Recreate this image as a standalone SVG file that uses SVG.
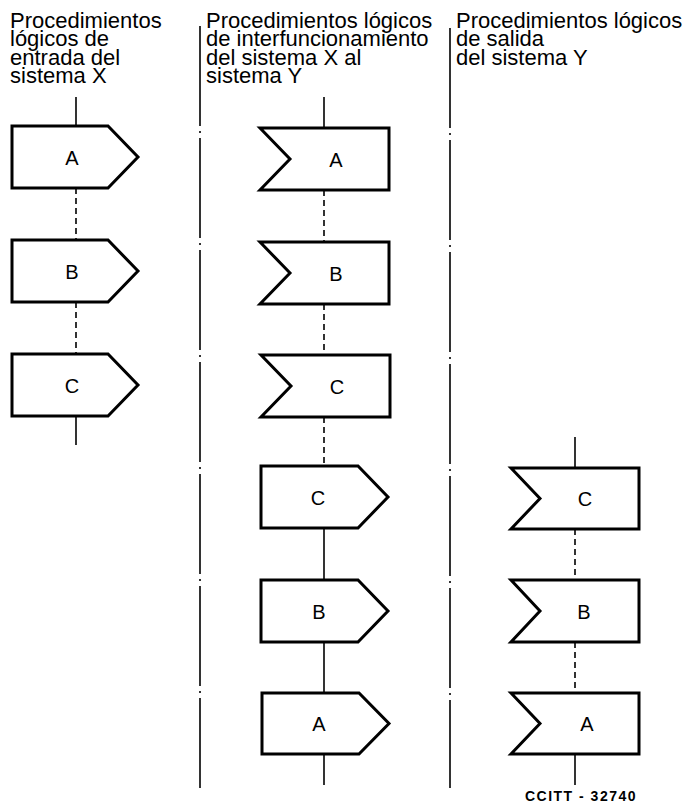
<svg xmlns="http://www.w3.org/2000/svg" width="691" height="807" viewBox="0 0 691 807">
<style>
.hdr{font-family:"Liberation Sans",Arial,sans-serif;font-size:22px;fill:#000}
.lbl{font-family:"Liberation Sans",Arial,sans-serif;font-size:20px;fill:#000;text-anchor:middle}
.box{fill:#fff;stroke:#000;stroke-width:3;stroke-linejoin:miter}
.solid{stroke:#000;stroke-width:1.6;fill:none}
.dash{stroke:#000;stroke-width:1.6;fill:none;stroke-dasharray:6,4}
.div{stroke:#000;stroke-width:1.6;fill:none;stroke-dasharray:100,5,2,5}
.ref{font-family:"Liberation Sans",Arial,sans-serif;font-size:14px;font-weight:bold;fill:#000;text-anchor:middle;letter-spacing:1.5px}
</style>
<rect width="691" height="807" fill="#fff"/>
<g id="headers">
<text class="hdr" x="10" y="28">Procedimientos</text>
<text class="hdr" x="10" y="46.3">lógicos de</text>
<text class="hdr" x="10" y="64.6">entrada del</text>
<text class="hdr" x="10" y="83">sistema X</text>
<text class="hdr" x="206" y="28">Procedimientos lógicos</text>
<text class="hdr" x="206" y="46.3">de interfuncionamiento</text>
<text class="hdr" x="206" y="64.6">del sistema X al</text>
<text class="hdr" x="206" y="83">sistema Y</text>
<text class="hdr" x="456" y="28">Procedimientos lógicos</text>
<text class="hdr" x="456" y="46.3">de salida</text>
<text class="hdr" x="456" y="64.6">del sistema Y</text>
</g>
<g id="dividers">
<line class="div" x1="200" y1="26" x2="200" y2="788"/>
<line class="div" x1="450" y1="28" x2="450" y2="788"/>
</g>
<g id="connectors">
<line class="solid" x1="76" y1="97" x2="76" y2="126"/>
<line class="dash" x1="76" y1="188" x2="76" y2="240"/>
<line class="dash" x1="76" y1="302" x2="76" y2="354"/>
<line class="solid" x1="76" y1="416" x2="76" y2="445"/>
<line class="solid" x1="324" y1="97" x2="324" y2="128"/>
<line class="dash" x1="324" y1="190" x2="324" y2="242"/>
<line class="dash" x1="324" y1="304" x2="324" y2="355"/>
<line class="dash" x1="324" y1="417" x2="324" y2="466"/>
<line class="solid" x1="324" y1="528" x2="324" y2="580"/>
<line class="solid" x1="324" y1="642" x2="324" y2="693"/>
<line class="solid" x1="324" y1="754" x2="324" y2="785"/>
<line class="solid" x1="575" y1="437" x2="575" y2="468"/>
<line class="dash" x1="575" y1="529" x2="575" y2="580"/>
<line class="dash" x1="575" y1="642" x2="575" y2="693"/>
<line class="solid" x1="575" y1="754" x2="575" y2="785"/>
</g>
<g id="x-A"><path class="box" d="M12,126 H108 L138,157 L108,188 H12 Z"/><text class="lbl" x="72" y="164.5">A</text></g>
<g id="x-B"><path class="box" d="M12,240 H108 L138,271 L108,302 H12 Z"/><text class="lbl" x="72" y="278.5">B</text></g>
<g id="x-C"><path class="box" d="M12,354 H108 L138,385 L108,416 H12 Z"/><text class="lbl" x="72" y="392.5">C</text></g>
<g id="m-rA"><path class="box" d="M260,128 H389 V190 H260 L290,159 Z"/><text class="lbl" x="336" y="166.5">A</text></g>
<g id="m-rB"><path class="box" d="M260,242 H389 V304 H260 L290,273 Z"/><text class="lbl" x="336" y="280.5">B</text></g>
<g id="m-rC"><path class="box" d="M261,355 H390 V417 H261 L291,386 Z"/><text class="lbl" x="337" y="393.5">C</text></g>
<g id="m-sC"><path class="box" d="M261,466 H358 L388,497 L358,528 H261 Z"/><text class="lbl" x="318" y="504.5">C</text></g>
<g id="m-sB"><path class="box" d="M261,580 H358 L388,611 L358,642 H261 Z"/><text class="lbl" x="319" y="618.5">B</text></g>
<g id="m-sA"><path class="box" d="M262,693 H359 L389,723.5 L359,754 H262 Z"/><text class="lbl" x="319" y="731">A</text></g>
<g id="y-C"><path class="box" d="M511,468 H639 V529 H511 L540,498.5 Z"/><text class="lbl" x="585" y="506">C</text></g>
<g id="y-B"><path class="box" d="M511,580 H639 V642 H511 L540,611 Z"/><text class="lbl" x="584" y="618.5">B</text></g>
<g id="y-A"><path class="box" d="M511,693 H639 V754 H511 L540,723.5 Z"/><text class="lbl" x="587" y="731">A</text></g>
<text class="ref" x="581" y="801">CCITT - 32740</text>
</svg>
